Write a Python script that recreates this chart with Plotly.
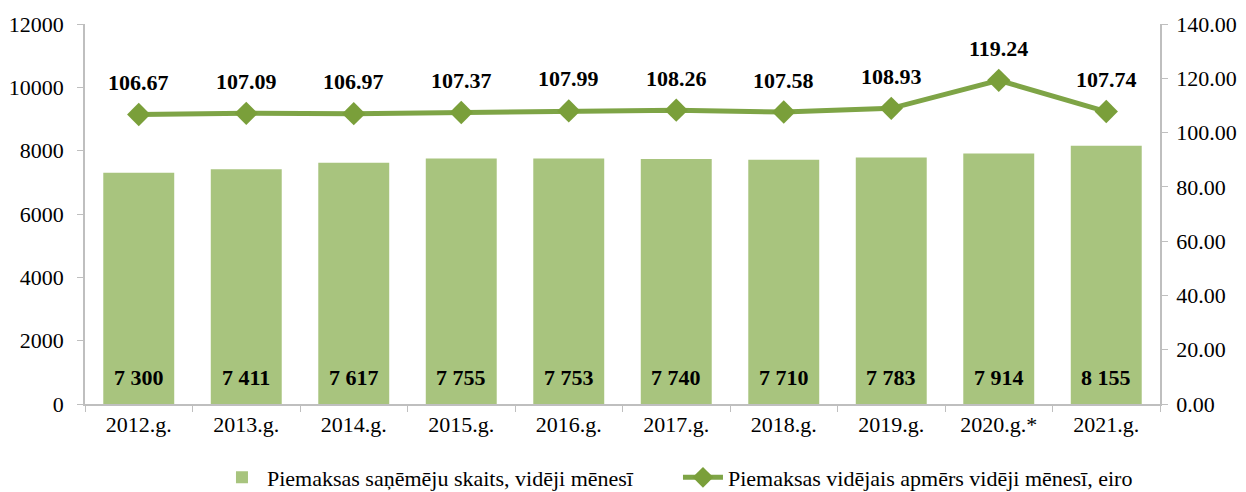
import plotly.graph_objects as go

categories = ["2012.g.", "2013.g.", "2014.g.", "2015.g.", "2016.g.", "2017.g.", "2018.g.", "2019.g.", "2020.g.*", "2021.g."]
recipients = [7300, 7411, 7617, 7755, 7753, 7740, 7710, 7783, 7914, 8155]
avg_amount = [106.67, 107.09, 106.97, 107.37, 107.99, 108.26, 107.58, 108.93, 119.24, 107.74]

name_bar = "Piemaksas saņēmēju skaits, vidēji mēnesī"
name_line = "Piemaksas vidējais apmērs vidēji mēnesī, eiro"

FONT = "Liberation Serif, Times New Roman, serif"
tickfont = dict(family=FONT, size=22, color="black")
AX = "#bfbfbf"

fig = go.Figure()
fig.add_trace(go.Bar(
    x=categories, y=recipients, name=name_bar,
    marker=dict(color="#a8c47e", line=dict(width=0)),
    yaxis="y",
))
fig.add_trace(go.Scatter(
    x=categories, y=avg_amount, name=name_line, yaxis="y2",
    mode="lines+markers",
    line=dict(color="#7ea446", width=5),
    marker=dict(symbol="diamond", size=18, color="#7a9f3a"),
))

annotations = []
for c, v in zip(categories, recipients):
    annotations.append(dict(
        x=c, y=0, xref="x", yref="y", text=f"{v:,}".replace(",", " "),
        showarrow=False, yanchor="bottom", yshift=12,
        font=dict(family=FONT, size=22, color="black", weight="bold"),
    ))
for c, v in zip(categories, avg_amount):
    annotations.append(dict(
        x=c, y=v, xref="x", yref="y2", text=f"{v:.2f}",
        showarrow=False, yanchor="middle", yshift=32,
        font=dict(family=FONT, size=22, color="black", weight="bold"),
    ))

n = len(categories)
common = dict(showgrid=False, zeroline=False, automargin=False)

# the page body has an 8px default margin, so the figure is sized to fit the window
fig.update_layout(
    width=1238, height=484,
    margin=dict(l=77, r=86, t=16, b=88),
    paper_bgcolor="white", plot_bgcolor="white",
    font=dict(family=FONT, size=22, color="black"),
    bargap=0.34,
    showlegend=True,
    legend=dict(orientation="h", xref="container", yref="container",
                x=0.1688, xanchor="left", y=0.03, yanchor="middle",
                font=dict(family=FONT, size=22, color="black"), entrywidth=406, itemwidth=40),
    xaxis=dict(range=[-0.5, n - 0.5], showline=True, linecolor=AX, linewidth=1.5, tickfont=tickfont,
               ticks="outside", tickson="boundaries", tickcolor=AX, ticklen=6, **common),
    yaxis=dict(range=[0, 12000], dtick=2000, tickformat="d", showline=True, tickfont=tickfont,
               linecolor=AX, linewidth=1.5, ticks="outside", tickcolor=AX,
               ticklen=6, ticklabelstandoff=9, **common),
    yaxis2=dict(range=[0, 140], dtick=20, tickformat=".2f", overlaying="y", side="right",
                tickfont=tickfont, showline=True, linecolor=AX, linewidth=1.5, ticks="outside",
                tickcolor=AX, ticklen=6, ticklabelstandoff=4, **common),
    # inner halves of the crossing tick marks
    xaxis2=dict(overlaying="x", anchor="y", side="bottom", type="linear", range=[-0.5, n - 0.5],
                tick0=-0.5, dtick=1, ticks="inside", ticklen=6, tickcolor=AX,
                showticklabels=False, showline=False, **common),
    yaxis3=dict(overlaying="y", anchor="x", side="left", range=[0, 12000], dtick=2000,
                ticks="inside", ticklen=6, tickcolor=AX, showticklabels=False, showline=False, **common),
    yaxis4=dict(overlaying="y", anchor="x", side="right", range=[0, 140], dtick=20,
                ticks="inside", ticklen=6, tickcolor=AX, showticklabels=False, showline=False, **common),
    annotations=annotations,
)

fig.write_html("out.html")
